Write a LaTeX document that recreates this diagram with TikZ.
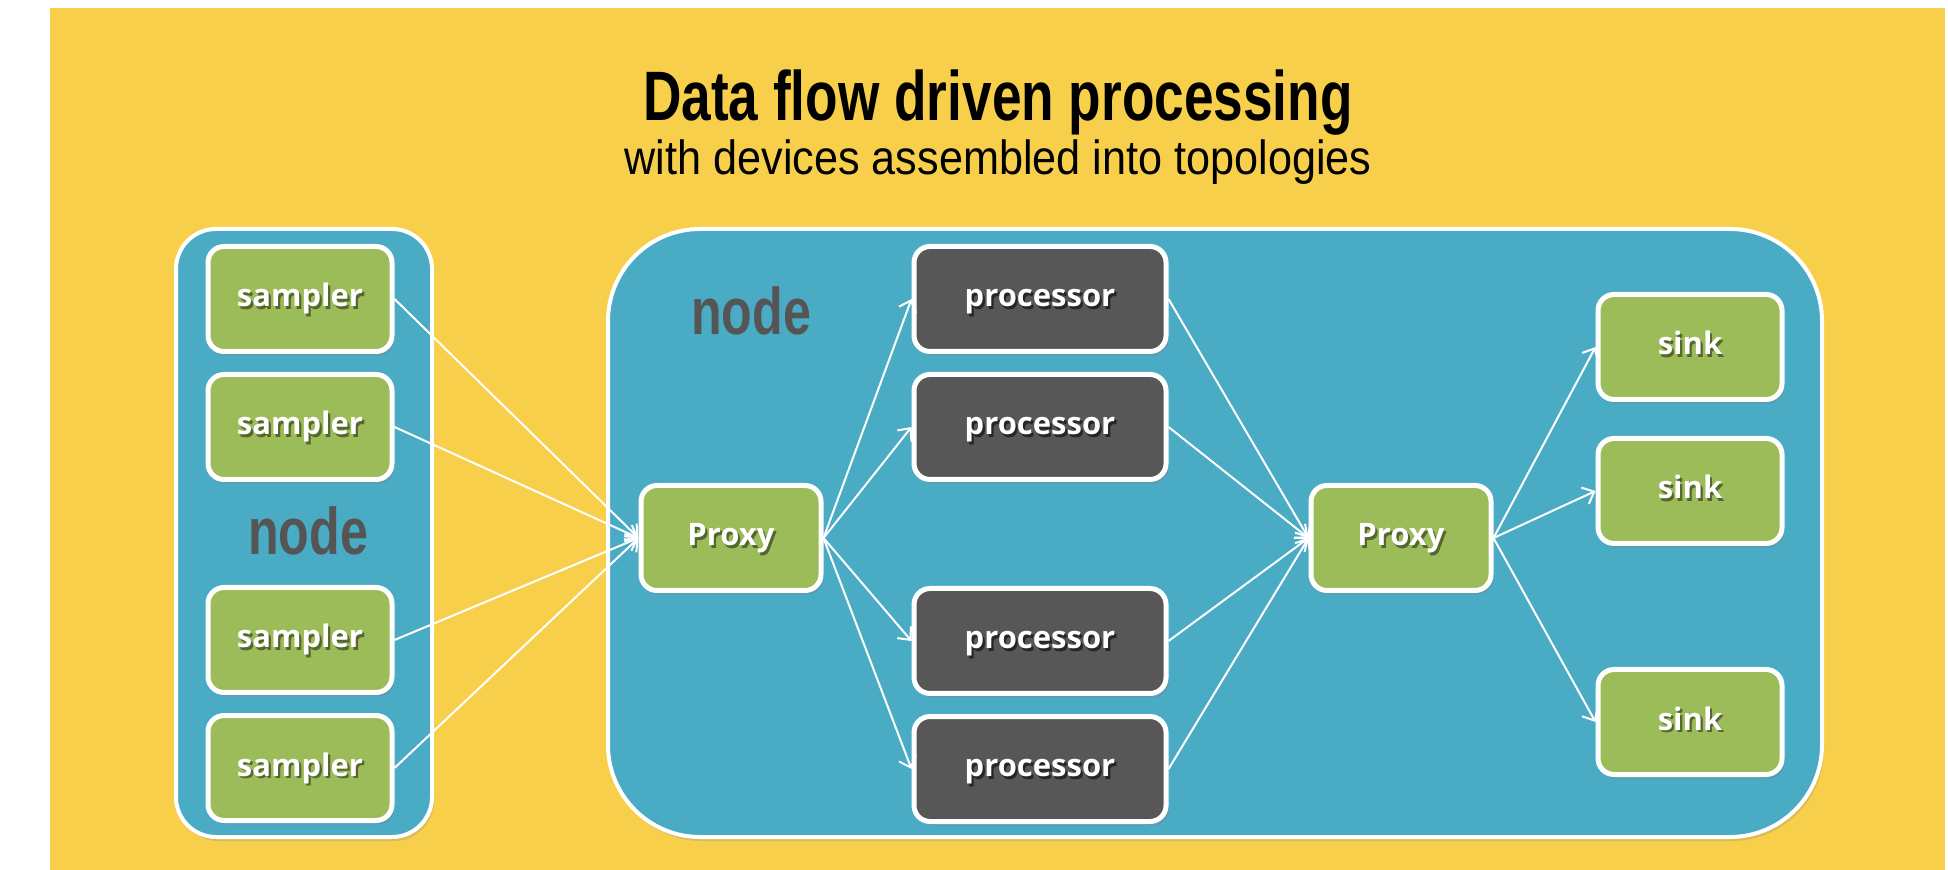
\documentclass[tikz,border=0pt]{standalone}
\usepackage{fontspec}
\setmainfont{Open Sans}
\newfontfamily\headfont[FakeStretch=0.76]{Liberation Sans}
\newfontfamily\subfont[FakeStretch=0.9]{Liberation Sans}
\usetikzlibrary{arrows.meta,shadows}

\definecolor{bgyellow}{HTML}{F8CF4B}
\definecolor{hostblue}{HTML}{4AABC5}
\definecolor{devgreen}{HTML}{9CBB59}
\definecolor{devgray}{HTML}{575757}
\definecolor{labelgray}{HTML}{555555}
\definecolor{greenshade}{HTML}{55662F}
\definecolor{grayshade}{HTML}{262626}

% white label with a small offset shadow behind it
\newcommand\shadedtext[2]{\rlap{\kern1.1pt\raisebox{-1.1pt}{\color{#1}#2}}#2}

\begin{document}
\begin{tikzpicture}[x=0.5pt,y=-0.5pt,
  host/.style={draw=white, line width=2pt, fill=hostblue,
    drop shadow={opacity=0.25, shadow xshift=1pt, shadow yshift=-2pt}},
  device/.style={draw=white, line width=2.5pt, rounded corners=8pt,
    minimum height=52.5pt, text=white, inner sep=0pt,
    text height=0.9em, text depth=0.1em,
    font=\bfseries\fontsize{15.5}{18}\selectfont,
    drop shadow={opacity=0.35, shadow xshift=1.2pt, shadow yshift=-2pt}},
  greenbox/.style={device, fill=devgreen, minimum width=92pt},
  graybox/.style={device, fill=devgray, minimum width=126pt},
  hostlabel/.style={text=labelgray, anchor=base,
    font=\headfont\bfseries\fontsize{33}{36}\selectfont},
  flow/.style={draw=white, line width=1pt,
    -{Straight Barb[length=5pt,width=9pt,line width=1pt]}}
]
\useasboundingbox (0,0) rectangle (1948,870);
\fill[white] (0,0) rectangle (1948,870);
\fill[bgyellow] (50,8) rectangle (1945,870);

% heading
\node[anchor=base, font=\headfont\bfseries\fontsize{35}{40}\selectfont] (title) at (998,121)
  {Data flow driven processing};
\node[anchor=base, font=\subfont\fontsize{24}{28}\selectfont] (subtitle) at (998,175)
  {with devices assembled into topologies};

% the two hosts
\node[host, rounded corners=20pt, minimum width=128pt, minimum height=304pt] (hostL) at (304,533) {};
\node[host, rounded corners=46pt, minimum width=607pt, minimum height=304pt] (hostR) at (1215,533) {};
\node[hostlabel] (labL) at (308,555) {node};
\node[hostlabel] (labR) at (751,335) {node};

% samplers
\node[greenbox] (s1) at (300,299) {\shadedtext{greenshade}{sampler}};
\node[greenbox] (s2) at (300,427) {\shadedtext{greenshade}{sampler}};
\node[greenbox] (s3) at (300,640) {\shadedtext{greenshade}{sampler}};
\node[greenbox] (s4) at (300,768) {\shadedtext{greenshade}{sampler}};

% proxies
\node[greenbox, minimum width=90pt] (p1) at (731,538) {\shadedtext{greenshade}{Proxy}};
\node[greenbox, minimum width=90pt] (p2) at (1401,538) {\shadedtext{greenshade}{Proxy}};

% processors
\node[graybox] (c1) at (1040,299) {\shadedtext{grayshade}{processor}};
\node[graybox] (c2) at (1040,427) {\shadedtext{grayshade}{processor}};
\node[graybox] (c3) at (1040,641) {\shadedtext{grayshade}{processor}};
\node[graybox] (c4) at (1040,769) {\shadedtext{grayshade}{processor}};

% sinks
\node[greenbox] (k1) at (1690,347) {\shadedtext{greenshade}{sink}};
\node[greenbox] (k2) at (1690,491) {\shadedtext{greenshade}{sink}};
\node[greenbox] (k3) at (1690,722) {\shadedtext{greenshade}{sink}};

% data flow
\foreach \n in {s1,s2,s3,s4} \draw[flow] (\n.east) -- (p1.west);
\foreach \n in {c1,c2,c3,c4} \draw[flow] (p1.east) -- (\n.west);
\foreach \n in {c1,c2,c3,c4} \draw[flow] (\n.east) -- (p2.west);
\foreach \n in {k1,k2,k3} \draw[flow] (p2.east) -- (\n.west);
\end{tikzpicture}
\end{document}
